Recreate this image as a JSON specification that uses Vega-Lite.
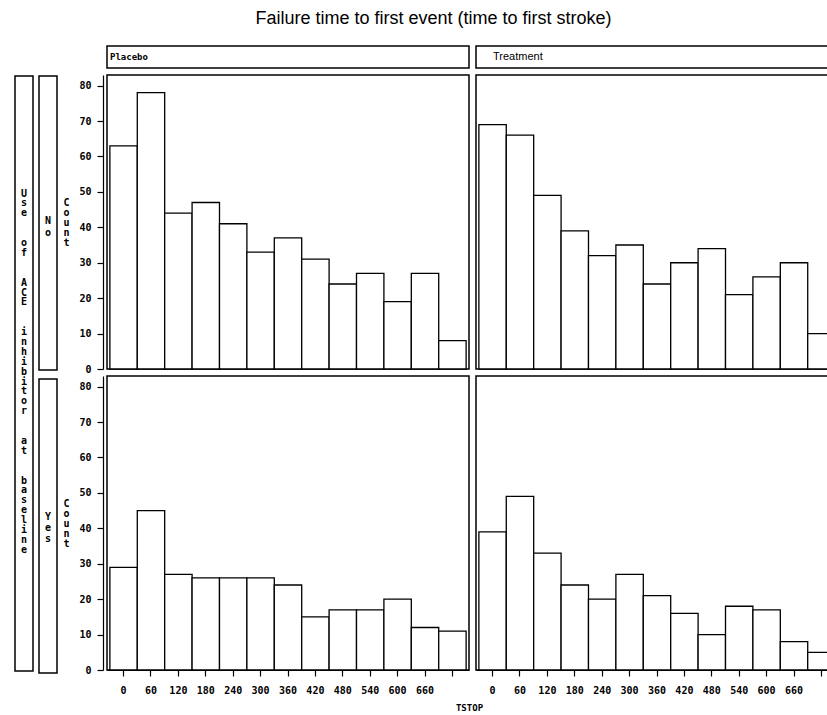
{
  "$schema": "https://vega.github.io/schema/vega-lite/v6.json",
  "padding": {"left": 14, "top": 10, "right": 0, "bottom": 0},
  "autosize": {"type": "pad"},
  "title": {"text": "Failure time to first event (time to first stroke)", "font": "Liberation Sans", "fontSize": 18, "fontWeight": "normal", "color": "black", "anchor": "middle", "offset": 17, "dx": 7},
  "datasets": {
    "hist": [
      {"trt": "Placebo", "ace": "No", "tstop": 0, "count": 63},
      {"trt": "Placebo", "ace": "No", "tstop": 60, "count": 78},
      {"trt": "Placebo", "ace": "No", "tstop": 120, "count": 44},
      {"trt": "Placebo", "ace": "No", "tstop": 180, "count": 47},
      {"trt": "Placebo", "ace": "No", "tstop": 240, "count": 41},
      {"trt": "Placebo", "ace": "No", "tstop": 300, "count": 33},
      {"trt": "Placebo", "ace": "No", "tstop": 360, "count": 37},
      {"trt": "Placebo", "ace": "No", "tstop": 420, "count": 31},
      {"trt": "Placebo", "ace": "No", "tstop": 480, "count": 24},
      {"trt": "Placebo", "ace": "No", "tstop": 540, "count": 27},
      {"trt": "Placebo", "ace": "No", "tstop": 600, "count": 19},
      {"trt": "Placebo", "ace": "No", "tstop": 660, "count": 27},
      {"trt": "Placebo", "ace": "No", "tstop": 720, "count": 8},
      {"trt": "Treatment", "ace": "No", "tstop": 0, "count": 69},
      {"trt": "Treatment", "ace": "No", "tstop": 60, "count": 66},
      {"trt": "Treatment", "ace": "No", "tstop": 120, "count": 49},
      {"trt": "Treatment", "ace": "No", "tstop": 180, "count": 39},
      {"trt": "Treatment", "ace": "No", "tstop": 240, "count": 32},
      {"trt": "Treatment", "ace": "No", "tstop": 300, "count": 35},
      {"trt": "Treatment", "ace": "No", "tstop": 360, "count": 24},
      {"trt": "Treatment", "ace": "No", "tstop": 420, "count": 30},
      {"trt": "Treatment", "ace": "No", "tstop": 480, "count": 34},
      {"trt": "Treatment", "ace": "No", "tstop": 540, "count": 21},
      {"trt": "Treatment", "ace": "No", "tstop": 600, "count": 26},
      {"trt": "Treatment", "ace": "No", "tstop": 660, "count": 30},
      {"trt": "Treatment", "ace": "No", "tstop": 720, "count": 10},
      {"trt": "Placebo", "ace": "Yes", "tstop": 0, "count": 29},
      {"trt": "Placebo", "ace": "Yes", "tstop": 60, "count": 45},
      {"trt": "Placebo", "ace": "Yes", "tstop": 120, "count": 27},
      {"trt": "Placebo", "ace": "Yes", "tstop": 180, "count": 26},
      {"trt": "Placebo", "ace": "Yes", "tstop": 240, "count": 26},
      {"trt": "Placebo", "ace": "Yes", "tstop": 300, "count": 26},
      {"trt": "Placebo", "ace": "Yes", "tstop": 360, "count": 24},
      {"trt": "Placebo", "ace": "Yes", "tstop": 420, "count": 15},
      {"trt": "Placebo", "ace": "Yes", "tstop": 480, "count": 17},
      {"trt": "Placebo", "ace": "Yes", "tstop": 540, "count": 17},
      {"trt": "Placebo", "ace": "Yes", "tstop": 600, "count": 20},
      {"trt": "Placebo", "ace": "Yes", "tstop": 660, "count": 12},
      {"trt": "Placebo", "ace": "Yes", "tstop": 720, "count": 11},
      {"trt": "Treatment", "ace": "Yes", "tstop": 0, "count": 39},
      {"trt": "Treatment", "ace": "Yes", "tstop": 60, "count": 49},
      {"trt": "Treatment", "ace": "Yes", "tstop": 120, "count": 33},
      {"trt": "Treatment", "ace": "Yes", "tstop": 180, "count": 24},
      {"trt": "Treatment", "ace": "Yes", "tstop": 240, "count": 20},
      {"trt": "Treatment", "ace": "Yes", "tstop": 300, "count": 27},
      {"trt": "Treatment", "ace": "Yes", "tstop": 360, "count": 21},
      {"trt": "Treatment", "ace": "Yes", "tstop": 420, "count": 16},
      {"trt": "Treatment", "ace": "Yes", "tstop": 480, "count": 10},
      {"trt": "Treatment", "ace": "Yes", "tstop": 540, "count": 18},
      {"trt": "Treatment", "ace": "Yes", "tstop": 600, "count": 17},
      {"trt": "Treatment", "ace": "Yes", "tstop": 660, "count": 8},
      {"trt": "Treatment", "ace": "Yes", "tstop": 720, "count": 5}
    ],
    "outer": [{"label": "Use of ACE inhibitor at baseline"}],
    "rows": [{"ace": "No"}, {"ace": "Yes"}],
    "cols": [{"trt": "Placebo"}, {"trt": "Treatment"}]
  },
  "config": {
    "view": {"stroke": "black", "strokeWidth": 1.5, "fill": "white"},
    "axis": {
      "labelFont": "DejaVu Sans Mono", "labelFontWeight": "bold", "labelFontSize": 10, "labelColor": "black",
      "titleFont": "DejaVu Sans Mono", "titleFontWeight": "bold", "titleFontSize": 10, "titleColor": "black",
      "tickColor": "black", "domainColor": "black", "tickSize": 6, "grid": false, "domainWidth": 1.2, "tickWidth": 1.2
    }
  },
  "spacing": 4,
  "hconcat": [
    {
      "spacing": 7,
      "vconcat": [
        {"width": 18, "height": 22, "data": {"values": [{"label": ""}]}, "mark": {"type": "text"}, "view": {"stroke": null, "fill": null},
         "encoding": {"x": {"datum": 0.5, "type": "quantitative", "scale": {"domain": [0, 1]}, "axis": null}, "y": {"datum": 0.5, "type": "quantitative", "scale": {"domain": [0, 1]}, "axis": null}, "text": {"field": "label"}}},
        {"width": 18, "height": 595, "data": {"name": "outer"},
         "mark": {"type": "text", "font": "DejaVu Sans Mono", "fontWeight": "bold", "fontSize": 10, "lineHeight": 9.9, "baseline": "middle", "align": "center", "color": "black", "dy": -180,
                  "text": {"expr": "split(replace(datum.label, regexp(' ', 'g'), '\u200b\u200b'), '')"}},
         "encoding": {"x": {"datum": 0.5, "type": "quantitative", "scale": {"domain": [0, 1]}, "axis": null}, "y": {"datum": 0.5, "type": "quantitative", "scale": {"domain": [0, 1]}, "axis": null}}}
      ]
    },
    {
      "spacing": 7,
      "vconcat": [
        {"width": 18, "height": 22, "data": {"values": [{"label": ""}]}, "mark": {"type": "text"}, "view": {"stroke": null, "fill": null},
         "encoding": {"x": {"datum": 0.5, "type": "quantitative", "scale": {"domain": [0, 1]}, "axis": null}, "y": {"datum": 0.5, "type": "quantitative", "scale": {"domain": [0, 1]}, "axis": null}, "text": {"field": "label"}}},
        {"width": 18, "height": 294, "data": {"name": "rows"}, "transform": [{"filter": "datum.ace == 'No'"}],
         "mark": {"type": "text", "font": "DejaVu Sans Mono", "fontWeight": "bold", "fontSize": 10, "lineHeight": 12, "baseline": "middle", "align": "center", "color": "black", "dy": -2,
                  "text": {"expr": "split(datum.ace, '')"}},
         "encoding": {"x": {"datum": 0.5, "type": "quantitative", "scale": {"domain": [0, 1]}, "axis": null}, "y": {"datum": 0.5, "type": "quantitative", "scale": {"domain": [0, 1]}, "axis": null}}},
        {"width": 18, "height": 294, "data": {"name": "rows"}, "transform": [{"filter": "datum.ace == 'Yes'"}],
         "mark": {"type": "text", "font": "DejaVu Sans Mono", "fontWeight": "bold", "fontSize": 10, "lineHeight": 11, "baseline": "middle", "align": "center", "color": "black", "dy": -9,
                  "text": {"expr": "split(datum.ace, '')"}},
         "encoding": {"x": {"datum": 0.5, "type": "quantitative", "scale": {"domain": [0, 1]}, "axis": null}, "y": {"datum": 0.5, "type": "quantitative", "scale": {"domain": [0, 1]}, "axis": null}}}
      ]
    },
    {
      "columns": 2,
      "spacing": 7,
      "bounds": "flush",
      "concat": [
        {"width": 362, "height": 22, "data": {"name": "cols"}, "transform": [{"filter": "datum.trt == 'Placebo'"}],
         "mark": {"type": "text", "align": "left", "baseline": "middle", "dx": 3, "font": "DejaVu Sans Mono", "fontWeight": "bold", "fontSize": 9, "color": "black"},
         "encoding": {"x": {"datum": 0, "type": "quantitative", "scale": {"domain": [0, 1]}, "axis": null}, "text": {"field": "trt"}}},
        {"width": 362, "height": 22, "data": {"name": "cols"}, "transform": [{"filter": "datum.trt == 'Treatment'"}],
         "mark": {"type": "text", "align": "left", "baseline": "middle", "dx": 17, "font": "Liberation Sans", "fontSize": 11, "color": "black"},
         "encoding": {"x": {"datum": 0, "type": "quantitative", "scale": {"domain": [0, 1]}, "axis": null}, "text": {"field": "trt"}}},
        {"width": 362, "height": 294, "data": {"name": "hist"}, "transform": [{"filter": "datum.trt == 'Placebo' && datum.ace == 'No'"}],
         "mark": {"type": "bar", "fill": "white", "stroke": "black", "strokeWidth": 1.3},
         "encoding": {
           "x": {"field": "tstop", "type": "ordinal", "sort": "ascending", "scale": {"paddingInner": 0, "paddingOuter": 0.105}, "axis": null},
           "y": {"field": "count", "type": "quantitative", "scale": {"domain": [0, 83], "nice": false},
                 "axis": {"title": ["C", "o", "u", "n", "t"], "values": [0, 10, 20, 30, 40, 50, 60, 70, 80], "offset": 4, "labelPadding": 6, "titleAngle": 0, "titleAlign": "center", "titleBaseline": "middle", "titleX": -37, "titleY": 127, "titleLineHeight": 10}}
         }},
        {"width": 362, "height": 294, "data": {"name": "hist"}, "transform": [{"filter": "datum.trt == 'Treatment' && datum.ace == 'No'"}],
         "mark": {"type": "bar", "fill": "white", "stroke": "black", "strokeWidth": 1.3},
         "encoding": {
           "x": {"field": "tstop", "type": "ordinal", "sort": "ascending", "scale": {"paddingInner": 0, "paddingOuter": 0.105}, "axis": null},
           "y": {"field": "count", "type": "quantitative", "scale": {"domain": [0, 83], "nice": false}, "axis": null}
         }},
        {"width": 362, "height": 294, "data": {"name": "hist"}, "transform": [{"filter": "datum.trt == 'Placebo' && datum.ace == 'Yes'"}],
         "mark": {"type": "bar", "fill": "white", "stroke": "black", "strokeWidth": 1.3},
         "encoding": {
           "x": {"field": "tstop", "type": "ordinal", "sort": "ascending", "scale": {"paddingInner": 0, "paddingOuter": 0.105},
                 "axis": {"title": "TSTOP", "labelAngle": 0, "labelPadding": 9, "labelExpr": "datum.value == 720 ? '' : datum.label", "titleAnchor": "end", "titleAlign": "center", "titlePadding": 8, "titleFontSize": 9}},
           "y": {"field": "count", "type": "quantitative", "scale": {"domain": [0, 83], "nice": false},
                 "axis": {"title": ["C", "o", "u", "n", "t"], "values": [0, 10, 20, 30, 40, 50, 60, 70, 80], "offset": 4, "labelPadding": 6, "titleAngle": 0, "titleAlign": "center", "titleBaseline": "middle", "titleX": -37, "titleY": 127, "titleLineHeight": 10}}
         }},
        {"width": 362, "height": 294, "data": {"name": "hist"}, "transform": [{"filter": "datum.trt == 'Treatment' && datum.ace == 'Yes'"}],
         "mark": {"type": "bar", "fill": "white", "stroke": "black", "strokeWidth": 1.3},
         "encoding": {
           "x": {"field": "tstop", "type": "ordinal", "sort": "ascending", "scale": {"paddingInner": 0, "paddingOuter": 0.105},
                 "axis": {"title": null, "labelAngle": 0, "labelPadding": 9, "labelExpr": "datum.value == 720 ? '' : datum.label"}},
           "y": {"field": "count", "type": "quantitative", "scale": {"domain": [0, 83], "nice": false}, "axis": null}
         }}
      ]
    }
  ]
}
